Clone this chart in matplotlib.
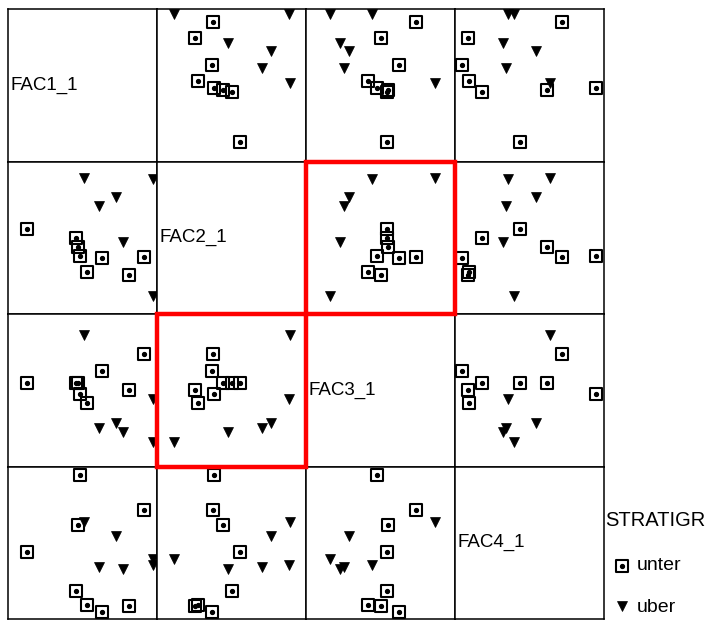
import numpy as np
import matplotlib.pyplot as plt
from matplotlib.markers import MarkerStyle
from matplotlib.patches import Rectangle

plt.rcParams['font.family'] = ['Liberation Sans', 'DejaVu Sans']

variables = ["FAC1_1", "FAC2_1", "FAC3_1", "FAC4_1"]

# factor scores, group "unter" (8 cases)
unter_fac1 = [1.66, 1.24, 0.52, 0.12, -0.07, -0.13, -0.18, -1.49]
unter_fac2 = [-0.50, -0.98, -0.52, -0.90, -0.47, -0.24, 0.00, 0.24]
unter_fac3 = [0.95, 0.00, 0.51, -0.33, -0.10, 0.20, 0.18, 0.18]
unter_fac4 = [0.87, -1.66, -1.81, -1.62, 1.78, 0.46, -1.27, -0.25]

# factor scores, group "uber" (6 cases)
uber_fac1 = [1.88, 1.88, 1.10, 0.90, 0.44, 0.05]
uber_fac2 = [-1.54, 1.54, -0.10, 1.06, 0.82, 1.57]
uber_fac3 = [-1.36, -0.24, -1.10, -0.85, -0.99, 1.46]
uber_fac4 = [-0.42, -0.58, -0.70, 0.17, -0.63, 0.54]

unter = np.array([unter_fac1, unter_fac2, unter_fac3, unter_fac4])
uber = np.array([uber_fac1, uber_fac2, uber_fac3, uber_fac4])

W, H = 717, 621
col_left = [8, 157, 306, 455]
row_top = [9, 161.5, 314, 466.5]
cell_w, cell_h = 149, 152.5

fig = plt.figure(figsize=(W / 100, H / 100), dpi=100)

sq = MarkerStyle('s', fillstyle='none', joinstyle='round')

def draw_unter(ax, x, y):
    ax.plot(x, y, ls='none', marker=sq, ms=8.2, mew=1.5, mec='black', zorder=3)
    ax.plot(x, y, ls='none', marker='o', ms=2.8, mec='black', mfc='black', zorder=4)

def draw_uber(ax, x, y):
    ax.plot(x, y, ls='none', marker='v', ms=7.6, mec='black', mfc='black', mew=0.5, zorder=2)

n = len(variables)
for i in range(n):
    for j in range(n):
        left = col_left[j] / W
        bottom = 1 - (row_top[i] + cell_h) / H
        ax = fig.add_axes([left, bottom, cell_w / W, cell_h / H])
        ax.set_xlim(-2, 2)
        ax.set_ylim(-2, 2)
        ax.set_xticks([])
        ax.set_yticks([])
        for s in ax.spines.values():
            s.set_linewidth(1.1)
        if i == j:
            ax.text(0.02, 0.5, variables[i], transform=ax.transAxes,
                    ha='left', va='center', fontsize=13.5)
            continue
        draw_uber(ax, uber[j], uber[i])
        draw_unter(ax, unter[j], unter[i])

# highlighted cells
for (i, j) in [(1, 2), (2, 1)]:
    x0 = col_left[j] / W
    y0 = 1 - (row_top[i] + cell_h) / H
    fig.patches.append(Rectangle((x0, y0), cell_w / W, cell_h / H,
                                 transform=fig.transFigure, fill=False,
                                 edgecolor='#ff0000', linewidth=3.2, zorder=10))

# legend
leg = fig.add_axes([0, 0, 1, 1], facecolor='none')
leg.set_xlim(0, W)
leg.set_ylim(H, 0)
leg.axis('off')
leg.text(605, 520, "STRATIGR", ha='left', va='center', fontsize=14.5)
draw_unter(leg, [622], [566])
draw_uber(leg, [622], [606])
leg.text(637, 566, "unter", ha='left', va='center', fontsize=14)
leg.text(637, 608, "uber", ha='left', va='center', fontsize=14)

fig.savefig("out.png", dpi=100)
